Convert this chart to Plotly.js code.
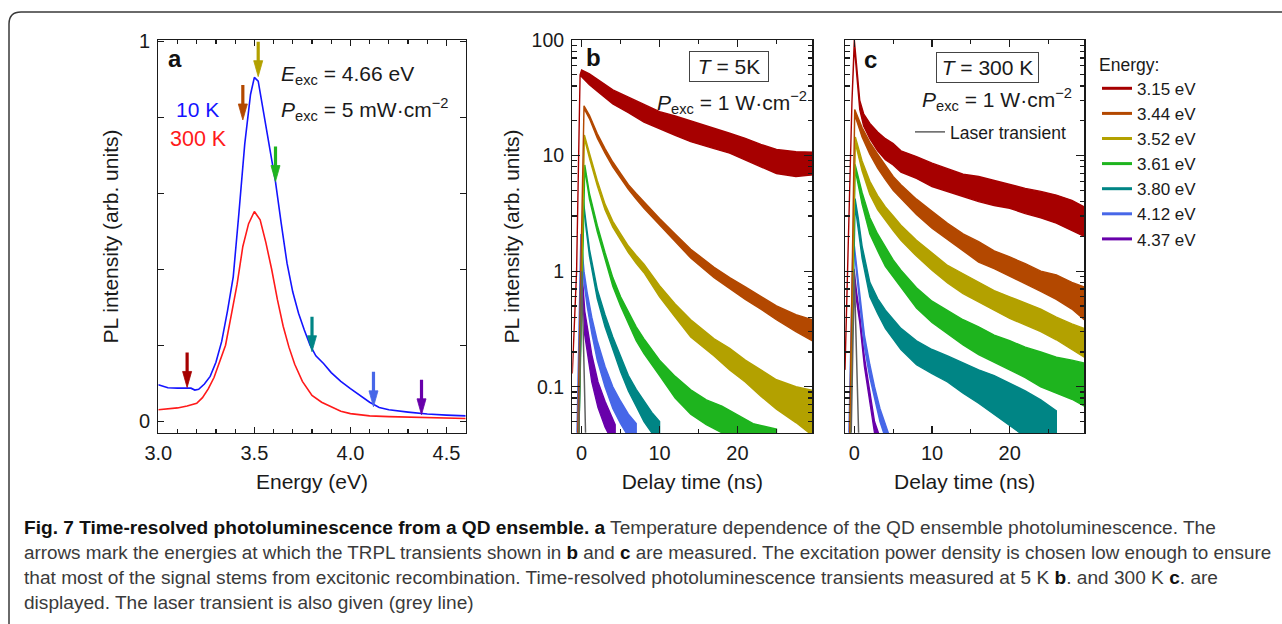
<!DOCTYPE html>
<html><head><meta charset="utf-8">
<script src="https://cdn.plot.ly/plotly-3.0.1.min.js"></script>
<style>html,body{margin:0;padding:0;background:#fff;}#chart{width:1282px;height:624px;}</style>
</head><body><div id="chart"></div>
<script>
// ---------- Panel a: steady-state PL spectra ----------
const energy10K = [3.00,3.05,3.10,3.15,3.17,3.19,3.21,3.24,3.27,3.30,3.33,3.36,3.39,3.42,3.45,3.48,3.50,3.52,3.55,3.58,3.61,3.64,3.67,3.70,3.73,3.76,3.79,3.82,3.86,3.90,3.95,4.00,4.05,4.10,4.15,4.20,4.30,4.40,4.50,4.60];
const pl10K = [0.096,0.088,0.087,0.088,0.087,0.082,0.084,0.098,0.118,0.155,0.21,0.29,0.38,0.55,0.73,0.86,0.905,0.895,0.81,0.72,0.63,0.52,0.416,0.34,0.284,0.24,0.20,0.172,0.152,0.128,0.105,0.086,0.069,0.050,0.036,0.030,0.024,0.019,0.016,0.014];
const energy300K = [3.00,3.05,3.10,3.15,3.20,3.23,3.26,3.29,3.32,3.35,3.38,3.41,3.44,3.47,3.50,3.53,3.56,3.59,3.62,3.65,3.68,3.71,3.75,3.80,3.85,3.90,3.95,4.00,4.10,4.20,4.30,4.45,4.60];
const pl300K = [0.030,0.033,0.035,0.040,0.047,0.062,0.085,0.115,0.16,0.20,0.28,0.36,0.46,0.52,0.552,0.53,0.47,0.40,0.32,0.25,0.195,0.15,0.105,0.068,0.050,0.037,0.026,0.020,0.014,0.012,0.011,0.009,0.007];
// arrows: detection energies and arrow-tip heights on the 10 K spectrum
const arrowEnergy = [3.15,3.44,3.52,3.61,3.80,4.12,4.37];
const arrowTip = [0.089,0.793,0.907,0.631,0.183,0.038,0.017];
const energyLabels = ['3.15 eV','3.44 eV','3.52 eV','3.61 eV','3.80 eV','4.12 eV','4.37 eV'];

// ---------- Panel b: TRPL at 5 K (upper / lower edge of the noisy trace) ----------
const b315_t = [-1.2,-0.65,-0.2,0,1,2,4,6,8,10,12,14,17,19,21,23,25,27.5,29.6];
const b315_hi = [0.13,1.0,50,55,51,46,37,32,27.5,24,22,20,17.2,15.6,14.1,12.5,11.3,10.8,10.7];
const b315_lo = [0.13,1.0,50,48,41,36,28,23.5,19.5,17,15,13.2,11.5,10.5,9.2,8.0,7.0,6.6,6.8];
const b344_t = [-0.5,0.3,1,2,3,4,5,6,7,8,10,12,14,17,19,21,23,25,27.5,29.6];
const b344_hi = [0.04,27,22.3,15.5,11.5,8.8,7.0,5.6,4.7,3.95,2.85,2.1,1.55,1.08,0.88,0.73,0.6,0.5,0.42,0.38];
const b344_lo = [0.04,25.6,20.9,14.2,10.5,8.0,6.4,5.1,4.2,3.5,2.5,1.8,1.3,0.88,0.71,0.57,0.47,0.38,0.30,0.25];
const b352_t = [-0.4,0.35,1,2,3,4,5,6,7,8,10,12,14,17,19,21,23,25,27.5,29.6];
const b352_hi = [0.04,15.1,10.5,6.1,3.8,2.7,2.1,1.65,1.37,1.15,0.75,0.52,0.38,0.26,0.215,0.17,0.14,0.115,0.10,0.093];
const b352_lo = [0.04,14.1,9.5,5.5,3.4,2.4,1.85,1.45,1.17,0.97,0.6,0.4,0.27,0.185,0.14,0.11,0.083,0.064,0.049,0.038];
const b361_t = [-0.35,0.4,1,2,3,4,5,6,7,8,10,12,14,16,18,20,22,25];
const b361_hi = [0.04,8.3,4.7,2.5,1.45,0.88,0.6,0.44,0.33,0.26,0.17,0.123,0.094,0.077,0.068,0.057,0.048,0.043];
const b361_lo = [0.04,7.7,4.2,2.2,1.25,0.74,0.5,0.35,0.25,0.194,0.125,0.08,0.058,0.047,0.04,0.034,0.03,0.027];
const b380_t = [-0.35,0.2,0.6,1,2,3,4,5,6,7,8,9,10];
const b380_hi = [0.04,4.2,2.5,1.55,0.7,0.42,0.27,0.18,0.125,0.095,0.075,0.06,0.05];
const b380_lo = [0.04,3.86,2.25,1.35,0.58,0.33,0.21,0.135,0.092,0.068,0.05,0.04,0.03];
const b412_t = [-0.6,-0.1,0.3,0.7,1.3,2,3,4,5,6,7];
const b412_hi = [0.04,2.1,1.0,0.66,0.4,0.25,0.15,0.1,0.075,0.058,0.048];
const b412_lo = [0.04,1.9,0.8,0.5,0.29,0.17,0.1,0.065,0.048,0.037,0.03];
const b437_t = [-0.5,0,0.4,1.3,2.1,3.0,4.3];
const b437_hi = [0.04,1.1,0.45,0.19,0.11,0.075,0.047];
const b437_lo = [0.04,1.0,0.28,0.11,0.066,0.045,0.03];
const bLaser_t = [-0.35,-0.15,0,0.2,0.5];
const bLaser_v = [0.04,0.3,1.0,0.3,0.04];

// ---------- Panel c: TRPL at 300 K ----------
const c315_t = [-1.2,-0.9,-0.3,0,0.3,0.7,1.2,2,3,4,5,6,8,10,12,14,16,18,20,22,24,26,28,29.6];
const c315_hi = [0.14,1.0,30,100,57,30,23,19,16,14,12.7,11,9.8,8.6,7.7,6.9,6.6,6.1,5.6,5.2,4.9,4.55,4.1,3.6];
const c315_lo = [0.14,1.0,30,90,51,25,18,14,11,9.2,8.3,7.2,6.35,5.4,4.9,4.4,4.0,3.7,3.5,3.15,2.9,2.6,2.25,2.0];
const c344_t = [-0.6,0.05,1,2,3,4,5,6,8,10,12,14,16,18,20,22,24,26,28,29.6];
const c344_hi = [0.04,25,17.5,13,10.3,8.2,6.6,5.6,4.2,3.3,2.6,2.1,1.8,1.5,1.33,1.16,1.0,0.93,0.8,0.73];
const c344_lo = [0.04,22.5,14.5,10.3,7.8,6.2,5.0,4.3,3.1,2.35,1.9,1.5,1.2,1.05,0.9,0.78,0.67,0.57,0.47,0.38];
const c352_t = [-0.55,0.13,1,2,3,4,5,6,8,10,12,14,16,18,20,22,24,26,28,29.6];
const c352_hi = [0.04,14.5,9.0,6.0,4.5,3.6,3.0,2.5,1.85,1.43,1.12,0.95,0.8,0.68,0.6,0.53,0.47,0.4,0.35,0.32];
const c352_lo = [0.04,12.8,7.4,4.6,3.4,2.75,2.25,1.85,1.35,1.02,0.79,0.64,0.54,0.46,0.39,0.34,0.3,0.255,0.21,0.18];
const c361_t = [-0.55,0.1,1,2,3,4,5,6,8,10,12,14,16,18,20,22,24,26,28,29.6];
const c361_hi = [0.04,8.4,4.8,2.9,2.1,1.6,1.25,1.02,0.72,0.55,0.46,0.38,0.33,0.28,0.25,0.22,0.2,0.18,0.17,0.16];
const c361_lo = [0.04,7.6,3.8,2.1,1.5,1.1,0.88,0.72,0.48,0.36,0.29,0.23,0.19,0.165,0.14,0.12,0.1,0.088,0.078,0.068];
const c380_t = [-0.5,0.1,0.5,1,2,3,4,5,6,8,10,12,14,16,18,20,22,24,26];
const c380_hi = [0.04,4.25,2.9,1.65,0.8,0.58,0.46,0.38,0.32,0.25,0.21,0.185,0.16,0.14,0.125,0.108,0.092,0.077,0.062];
const c380_lo = [0.04,3.7,2.35,1.3,0.6,0.43,0.32,0.26,0.21,0.155,0.13,0.11,0.088,0.072,0.058,0.046,0.037,0.03,0.026];
const c412_t = [-0.7,-0.15,0.3,0.7,1.3,2.0,2.6,3.3,4.0,4.6];
const c412_hi = [0.04,2.05,1.1,0.62,0.28,0.155,0.1,0.065,0.046,0.036];
const c412_lo = [0.04,1.9,0.95,0.5,0.22,0.12,0.078,0.05,0.036,0.03];
const c437_t = [-0.6,-0.05,0.3,0.7,1.3,2.0,2.6,3.1];
const c437_hi = [0.04,1.05,0.65,0.42,0.18,0.092,0.05,0.04];
const c437_lo = [0.04,0.95,0.55,0.36,0.15,0.075,0.04,0.032];
const cLaser_t = [-0.4,-0.15,0,0.2,0.55];
const cLaser_v = [0.04,0.3,1.0,0.3,0.04];

// ---------- styles ----------
const palette = ['#a60000','#b34800','#b3a100','#1eb41e','#008585','#4767e8','#6800aa'];
const W = 1282, H = 624;
const X = p => p / W, Y = p => 1 - p / H;
const FONT = 'Liberation Sans, Arial, Helvetica, sans-serif';
const INK = '#1a1a1a';

function band(t, lo, hi, color, xa, ya) {
  return {type:'scatter', mode:'lines', x:t.concat(t.slice().reverse()), y:hi.concat(lo.slice().reverse()),
    fill:'toself', fillcolor:color, line:{color:color, width:1.4}, xaxis:xa, yaxis:ya,
    showlegend:false, hoverinfo:'skip'};
}
const bSets = [[b315_t,b315_lo,b315_hi],[b344_t,b344_lo,b344_hi],[b352_t,b352_lo,b352_hi],[b361_t,b361_lo,b361_hi],[b380_t,b380_lo,b380_hi],[b412_t,b412_lo,b412_hi],[b437_t,b437_lo,b437_hi]];
const cSets = [[c315_t,c315_lo,c315_hi],[c344_t,c344_lo,c344_hi],[c352_t,c352_lo,c352_hi],[c361_t,c361_lo,c361_hi],[c380_t,c380_lo,c380_hi],[c412_t,c412_lo,c412_hi],[c437_t,c437_lo,c437_hi]];

const traces = [];
traces.push({type:'scatter', mode:'lines', x:energy300K, y:pl300K, line:{color:'#ff1a1a', width:1.6}, xaxis:'x', yaxis:'y', showlegend:false, hoverinfo:'skip'});
traces.push({type:'scatter', mode:'lines', x:energy10K, y:pl10K, line:{color:'#1414ff', width:1.6}, xaxis:'x', yaxis:'y', showlegend:false, hoverinfo:'skip'});
// arrows: shaft + narrow triangular head whose tip sits on the marked point
const shaftLen = 0.092, headLen = 0.042, headHalf = 0.0235;  // ~35 px, ~16 px, ~4.5 px in panel-a units
for (let i = 0; i < arrowEnergy.length; i++) {
  const e = arrowEnergy[i], tip = arrowTip[i];
  traces.push({type:'scatter', mode:'lines', x:[e, e], y:[tip + shaftLen, tip + headLen - 0.004],
    line:{color:palette[i], width:3.2}, xaxis:'x', yaxis:'y', showlegend:false, hoverinfo:'skip'});
  traces.push({type:'scatter', mode:'lines', x:[e - headHalf, e + headHalf, e, e - headHalf], y:[tip + headLen, tip + headLen, tip, tip + headLen],
    fill:'toself', fillcolor:palette[i], line:{color:palette[i], width:0.8}, xaxis:'x', yaxis:'y', showlegend:false, hoverinfo:'skip'});
}
for (let i = 6; i >= 0; i--) traces.push(band(bSets[i][0], bSets[i][1], bSets[i][2], palette[i], 'x2', 'y2'));
traces.push({type:'scatter', mode:'lines', x:bLaser_t, y:bLaser_v, line:{color:'#5f5f5f', width:1.5}, xaxis:'x2', yaxis:'y2', showlegend:false, hoverinfo:'skip'});
for (let i = 6; i >= 0; i--) traces.push(band(cSets[i][0], cSets[i][1], cSets[i][2], palette[i], 'x3', 'y3'));
traces.push({type:'scatter', mode:'lines', x:cLaser_t, y:cLaser_v, line:{color:'#5f5f5f', width:1.5}, xaxis:'x3', yaxis:'y3', name:'Laser transient', legend:'legend2', showlegend:true, hoverinfo:'skip'});
// legend entries for the energies
for (let i = 0; i < 7; i++) traces.push({type:'scatter', mode:'lines', x:[null], y:[null], xaxis:'x3', yaxis:'y3', name:energyLabels[i], line:{color:palette[i], width:3}, showlegend:true, legend:'legend'});

const axBase = {showline:true, linecolor:INK, linewidth:1.3, mirror:'ticks', ticks:'inside', tickcolor:INK, tickwidth:1.2, showgrid:false, zeroline:false, tickfont:{size:20, color:INK}, fixedrange:true};
const logMinor = [0.05,0.06,0.07,0.08,0.09,0.2,0.3,0.4,0.5,0.6,0.7,0.8,0.9,2,3,4,5,6,7,8,9,20,30,40,50,60,70,80,90];
const yTop = Y(40), yBot = Y(433);
const TF = {size:21, color:INK};

const annotations = [];
function txt(text, x, y, opts) {
  return Object.assign({text:text, x:X(x), y:Y(y), xref:'paper', yref:'paper', showarrow:false, xanchor:'center', yanchor:'middle', font:{size:21, color:INK}}, opts || {});
}
annotations.push(txt('<b>a</b>', 175, 58, {font:{size:24, color:'#111'}}));
annotations.push(txt('<b>b</b>', 593, 57, {font:{size:24, color:'#111'}}));
annotations.push(txt('<b>c</b>', 870, 59, {font:{size:24, color:'#111'}}));
annotations.push(txt('10 K', 197.5, 109, {font:{size:21, color:'#1414ff'}}));
annotations.push(txt('300 K', 198, 139, {font:{size:21.5, color:'#ff1a1a'}}));
annotations.push(txt('<i>E</i><sub>exc</sub> = 4.66 eV', 279, 75, {xanchor:'left'}));
annotations.push(txt('<i>P</i><sub>exc</sub> = 5 mW·cm<sup>−2</sup>', 279, 109, {xanchor:'left'}));
annotations.push(txt('<i>P</i><sub>exc</sub> = 1 W·cm<sup>−2</sup>', 809, 103, {xanchor:'right'}));
annotations.push(txt('<i>P</i><sub>exc</sub> = 1 W·cm<sup>−2</sup>', 1074, 100, {xanchor:'right'}));
annotations.push(txt('<i>T</i> = 5K', 729, 67, {width:78, height:29, bordercolor:'#444', borderwidth:1, borderpad:0}));
annotations.push(txt('<i>T</i> = 300 K', 987.5, 67.5, {width:101, height:29, bordercolor:'#444', borderwidth:1, borderpad:0}));
// caption
const capLines = [
  '<b style="color:#111">Fig. 7 Time-resolved photoluminescence from a QD ensemble. a</b> Temperature dependence of the QD ensemble photoluminescence. The',
  'arrows mark the energies at which the TRPL transients shown in <b style="color:#111">b</b> and <b style="color:#111">c</b> are measured. The excitation power density is chosen low enough to ensure',
  'that most of the signal stems from excitonic recombination. Time-resolved photoluminescence transients measured at 5 K <b style="color:#111">b</b>. and 300 K <b style="color:#111">c</b>. are',
  'displayed. The laser transient is also given (grey line)'
];
const capY = [527, 552, 577, 602];
const capSize = [19.1, 18.85, 19.1, 19.1];
for (let i = 0; i < capLines.length; i++) annotations.push(txt(capLines[i], 22, capY[i], {xanchor:'left', font:{family:FONT, size:capSize[i], color:'#3a3a3a'}}));

const layout = {
  width:W, height:H, margin:{l:0, r:0, t:0, b:0}, paper_bgcolor:'#fff', plot_bgcolor:'#fff',
  font:{family:FONT, size:18, color:INK}, showlegend:true,
  xaxis: Object.assign({}, axBase, {domain:[X(158.3), X(465.7)], range:[3.0, 4.6], anchor:'y', tickvals:[3.0,3.5,4.0,4.5], ticktext:['3.0','3.5','4.0','4.5'], ticklen:6, ticklabelstandoff:2, minor:{dtick:0.1, tick0:3.0, ticklen:4, ticks:'inside', tickcolor:INK}, title:{text:'Energy (eV)', font:TF, standoff:11}}),
  yaxis: Object.assign({}, axBase, {domain:[yBot, yTop], range:[-0.031, 1.0034], anchor:'x', tickvals:[0,1], ticktext:['0','1'], ticklen:6, ticklabelstandoff:3, minor:{dtick:0.2, tick0:0, ticklen:6, ticks:'inside', tickcolor:INK}, title:{text:'PL intensity (arb. units)', font:TF, standoff:14}}),
  xaxis2: Object.assign({}, axBase, {domain:[X(572.3), X(812.3)], range:[-1.2, 29.6], anchor:'y2', tickvals:[0,10,20], ticktext:['0','10','20'], ticklen:7, ticklabelstandoff:2, minor:{dtick:5, tick0:0, ticklen:4, ticks:'inside', tickcolor:INK}, title:{text:'Delay time (ns)', font:TF, standoff:11}}),
  yaxis2: Object.assign({}, axBase, {type:'log', domain:[yBot, yTop], range:[-1.4, 2], anchor:'x2', tickvals:[0.1,1,10,100], ticktext:['0.1','1','10','100'], ticklen:8, ticklabelstandoff:3, minor:{tickvals:logMinor, ticklen:4.5, ticks:'inside', tickcolor:INK}, tickfont:{size:19.5, color:INK}, title:{text:'PL intensity (arb. units)', font:TF, standoff:6}}),
  xaxis3: Object.assign({}, axBase, {domain:[X(845), X(1084.3)], range:[-1.2, 29.6], anchor:'y3', tickvals:[0,10,20], ticktext:['0','10','20'], ticklen:7, ticklabelstandoff:2, minor:{dtick:5, tick0:0, ticklen:4, ticks:'inside', tickcolor:INK}, title:{text:'Delay time (ns)', font:TF, standoff:11}}),
  yaxis3: Object.assign({}, axBase, {type:'log', domain:[yBot, yTop], range:[-1.4, 2], anchor:'x3', tickvals:[0.1,1,10,100], showticklabels:false, ticklen:8, minor:{tickvals:logMinor, ticklen:4.5, ticks:'inside', tickcolor:INK}}),
  legend:{x:X(1097), xanchor:'left', y:Y(48), yanchor:'top', bgcolor:'rgba(0,0,0,0)', borderwidth:0, font:{size:17, color:INK}, title:{text:'Energy:', font:{size:17.5}}, itemwidth:30, tracegroupgap:0, traceorder:'normal'},
  legend2:{x:X(910), xanchor:'left', y:Y(114), yanchor:'top', bgcolor:'rgba(0,0,0,0)', borderwidth:0, font:{size:17.5, color:INK}, itemwidth:30},
  annotations:annotations,
  shapes:[{type:'path', xref:'paper', yref:'paper', path:'M ' + X(9) + ',' + Y(640) + ' L ' + X(9) + ',' + Y(24) + ' Q ' + X(9) + ',' + Y(12) + ' ' + X(21) + ',' + Y(12) + ' L ' + X(1300) + ',' + Y(12), line:{color:'#3a3a3a', width:1.5}}]
};
Plotly.newPlot('chart', traces, layout, {staticPlot:true, displayModeBar:false});
</script></body></html>
